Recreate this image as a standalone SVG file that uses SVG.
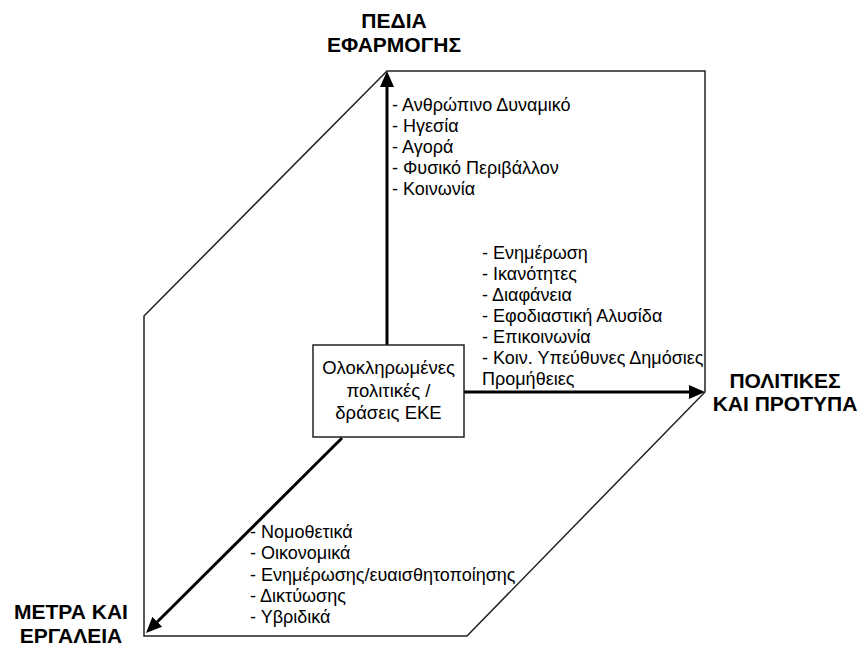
<svg xmlns="http://www.w3.org/2000/svg" width="860" height="652" viewBox="0 0 860 652">
<style>
.frame{fill:none;stroke:#222;stroke-width:1.5}
.axis{fill:none;stroke:#000;stroke-width:3}
.t{font-family:"Liberation Sans",Arial,sans-serif;font-size:18px;fill:#000}
.box{font-family:"Liberation Sans",Arial,sans-serif;font-size:18.5px;fill:#000;text-anchor:middle}
.h{font-family:"Liberation Sans",Arial,sans-serif;font-size:21px;font-weight:bold;fill:#000;text-anchor:middle}
</style>
<defs>
<marker id="ah" markerUnits="userSpaceOnUse" markerWidth="16" markerHeight="14" refX="6" refY="7" orient="auto">
<path d="M0,0 L16,7 L0,14 z" fill="#000"/>
</marker>
</defs>
<g id="frame">
<polygon class="frame" points="144,316 387,71 705,71 705,392 467,636 144,636"/>
</g>
<g id="connectors">
<line class="axis" x1="387" y1="345" x2="387" y2="81" marker-end="url(#ah)"/>
<line class="axis" x1="464" y1="392" x2="695" y2="392" marker-end="url(#ah)"/>
<line class="axis" x1="342" y1="438" x2="153.1" y2="626" marker-end="url(#ah)"/>
</g>
<g id="center">
<rect x="313" y="345" width="151" height="92" fill="#fff" stroke="#222" stroke-width="1.5"/>
<text class="box" x="388.5" y="374">Ολοκληρωμένες</text>
<text class="box" x="388.5" y="397">πολιτικές /</text>
<text class="box" x="388.5" y="419">δράσεις ΕΚΕ</text>
</g>
<g id="pedia">
<text class="h" x="394" y="28">ΠΕΔΙΑ</text>
<text class="h" x="394" y="52">ΕΦΑΡΜΟΓΗΣ</text>
<text class="t" x="392" y="111">- Ανθρώπινο Δυναμικό</text>
<text class="t" x="392" y="132">- Ηγεσία</text>
<text class="t" x="392" y="153">- Αγορά</text>
<text class="t" x="392" y="174">- Φυσικό Περιβάλλον</text>
<text class="t" x="392" y="195">- Κοινωνία</text>
</g>
<g id="politikes">
<text class="h" x="785" y="388">ΠΟΛΙΤΙΚΕΣ</text>
<text class="h" x="785" y="411">ΚΑΙ ΠΡΟΤΥΠΑ</text>
<text class="t" x="482" y="259">- Ενημέρωση</text>
<text class="t" x="482" y="280">- Ικανότητες</text>
<text class="t" x="482" y="301">- Διαφάνεια</text>
<text class="t" x="482" y="322">- Εφοδιαστική Αλυσίδα</text>
<text class="t" x="482" y="343">- Επικοινωνία</text>
<text class="t" x="482" y="364">- Κοιν. Υπεύθυνες Δημόσιες</text>
<text class="t" x="482" y="385">Προμήθειες</text>
</g>
<g id="metra">
<text class="h" x="71" y="619">ΜΕΤΡΑ ΚΑΙ</text>
<text class="h" x="71" y="643">ΕΡΓΑΛΕΙΑ</text>
<text class="t" x="250" y="538">- Νομοθετικά</text>
<text class="t" x="250" y="559">- Οικονομικά</text>
<text class="t" x="250" y="581">- Ενημέρωσης/ευαισθητοποίησης</text>
<text class="t" x="250" y="602">- Δικτύωσης</text>
<text class="t" x="250" y="623">- Υβριδικά</text>
</g>
</svg>
